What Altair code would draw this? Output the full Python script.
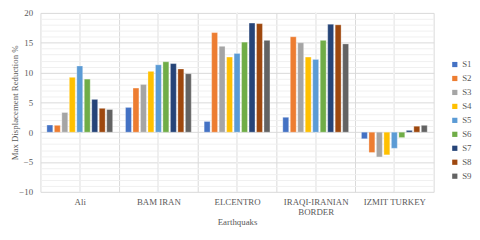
import altair as alt
import pandas as pd

quakes = ["Ali", "BAM IRAN", "ELCENTRO", "IRAQI-IRANIAN BORDER", "IZMIT TURKEY"]
series = ["S1", "S2", "S3", "S4", "S5", "S6", "S7", "S8", "S9"]
S1 = [1.2, 4.15, 1.8, 2.5, -1.1]
S2 = [1.15, 7.4, 16.7, 16.0, -3.4]
S3 = [3.3, 8.0, 14.4, 15.0, -4.15]
S4 = [9.2, 10.2, 12.6, 12.6, -3.8]
S5 = [11.1, 11.3, 13.2, 12.2, -2.7]
S6 = [8.9, 11.8, 15.1, 15.4, -0.9]
S7 = [5.5, 11.5, 18.3, 18.1, 0.3]
S8 = [4.0, 10.6, 18.2, 18.0, 1.0]
S9 = [3.8, 9.8, 15.4, 14.8, 1.15]
colors = ["#4472C4", "#ED7D31", "#A5A5A5", "#FFC000", "#5B9BD5",
          "#70AD47", "#264478", "#9E480E", "#636363"]
y_ticks = list(range(-10, 21))

vals = [S1, S2, S3, S4, S5, S6, S7, S8, S9]
rows = []
for s, v in zip(series, vals):
    for q, val in zip(quakes, v):
        rows.append({"Earthquake": q, "Series": s, "Value": val})
df = pd.DataFrame(rows)

FONT = "Liberation Serif"
TXT = "#595959"

xscale = alt.Scale(domain=quakes, paddingInner=0, paddingOuter=0)
xaxis = alt.Axis(title="Earthquaks", labelAngle=0, domain=False, ticks=False,
                 grid=True, tickBand="extent", gridColor="#d9d9d9",
                 labelPadding=6, titlePadding=1,
                 labelExpr="datum.value == 'IRAQI-IRANIAN BORDER' ? ['IRAQI-IRANIAN', 'BORDER'] : datum.label")
yaxis = alt.Axis(title="Max Displacement Reduction %", values=y_ticks,
                 domain=False, ticks=False, labelPadding=8,
                 titleX=-26, titleY=91, titleBaseline="middle", titleAlign="center",
                 titleAngle=270,
                 labelExpr="datum.value % 5 === 0 ? datum.label : ''",
                 gridColor={"condition": {"test": "datum.value % 5 === 0", "value": "#d9d9d9"},
                            "value": "#f0f0f0"})

centers = alt.Chart(df).mark_rule(color="#eeeeee", strokeWidth=1).encode(
    x=alt.X("Earthquake:N", scale=xscale, axis=xaxis),
)

bars = alt.Chart(df).mark_bar(stroke="white", strokeOpacity=0.6, strokeWidth=0.5).encode(
    x=alt.X("Earthquake:N", scale=xscale, axis=xaxis),
    xOffset=alt.XOffset("Series:N", sort=series,
                        scale=alt.Scale(paddingInner=0.21, paddingOuter=0.86)),
    y=alt.Y("Value:Q", scale=alt.Scale(domain=[-10, 20], nice=False), axis=yaxis),
    color=alt.Color("Series:N", sort=series,
                    scale=alt.Scale(domain=series, range=colors),
                    legend=alt.Legend(title=None, orient="none", legendX=417, legendY=48,
                                      symbolType="square", symbolSize=28,
                                      symbolStrokeWidth=0, rowPadding=4.2,
                                      labelFont=FONT, labelFontSize=9,
                                      labelColor=TXT, labelOffset=3)),
)

chart = alt.layer(centers, bars).properties(
    width=400, height=182,
    autosize=alt.AutoSizeParams(type="none"),
    padding={"left": 33, "top": 3, "right": 39, "bottom": 47},
).configure_view(stroke=None).configure_axis(
    labelFont=FONT, titleFont=FONT, labelFontSize=9, titleFontSize=9,
    labelColor=TXT, titleColor=TXT, titleFontWeight="normal",
    labelLineHeight=10,
)

chart.save("out.html", embed_options={"renderer": "svg", "actions": False})
